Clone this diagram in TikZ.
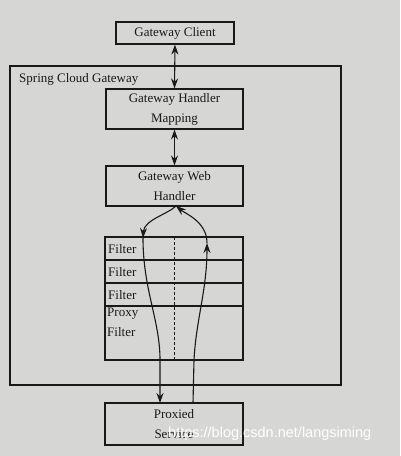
\documentclass[tikz,border=0pt]{standalone}
\usepackage{fontspec}
\setmainfont{Liberation Serif}
\newfontfamily\wmfont{Liberation Sans}
\usetikzlibrary{arrows.meta}
\definecolor{paper}{RGB}{214,214,212}
\definecolor{ink}{RGB}{25,25,25}
\tikzset{
  box/.style={draw=ink, line width=1.1pt, rectangle, inner sep=0pt, align=center, font=\fontsize{13}{20}\selectfont, text=ink},
  rowbox/.style={draw=ink, line width=1.1pt, rectangle, inner sep=0pt, minimum width=138pt},
  lbl/.style={font=\fontsize{13}{20}\selectfont, text=ink, inner sep=0pt, align=left},
  conn/.style={draw=ink, line width=1.1pt},
  tip/.style={-{Stealth[length=10pt,width=7pt]}},
  dtip/.style={{Stealth[length=10pt,width=7pt]}-{Stealth[length=10pt,width=7pt]}}
}
\begin{document}
\begin{tikzpicture}[x=1pt,y=-1pt]
\fill[paper] (0,0) rectangle (400,456);
\useasboundingbox (0,0) rectangle (400,456);
% outer box
\draw[conn] (10,66) rectangle (341,385);
\node[lbl, anchor=west] (scg) at (19,79) {Spring Cloud Gateway};
% nodes
\node[box, minimum width=118pt, minimum height=22pt] (client) at (175,33) {Gateway Client};
\node[box, minimum width=137pt, minimum height=40pt] (mapping) at (174.5,109) {\raisebox{-2pt}{\parbox{130pt}{\centering Gateway Handler\\Mapping}}};
\node[box, minimum width=137pt, minimum height=40pt] (web) at (174.5,186) {\raisebox{-2pt}{\parbox{130pt}{\centering Gateway Web\\Handler}}};
% filter rows
\node[rowbox, minimum height=23pt] (f1) at (174,248.5) {};
\node[rowbox, minimum height=23pt] (f2) at (174,271.5) {};
\node[rowbox, minimum height=23pt] (f3) at (174,294.5) {};
\node[rowbox, minimum height=54pt] (pf) at (174,333) {};
\node[lbl, anchor=west] (f1t) at (108,249) {Filter};
\node[lbl, anchor=west] (f2t) at (108,272) {Filter};
\node[lbl, anchor=west] (f3t) at (108,295) {Filter};
\node[lbl, anchor=north west] (pft) at (107,308) {Proxy\\Filter};
\node[box, minimum width=138pt, minimum height=42pt] (proxied) at (174,424) {\raisebox{-2pt}{\parbox{130pt}{\centering Proxied\\Service}}};
% dashed divider
\coordinate (dtop) at (174,237);
\coordinate (dbot) at (174,360);
\draw[conn, line width=1pt, dash pattern=on 3pt off 2pt] (dtop) -- (dbot);
% vertical double arrows
\draw[conn, dtip] (client.south) -- (mapping.north);
\draw[conn, dtip] (mapping.south) -- (web.north);
% request path (left)
\coordinate (wb) at (176,206);
\coordinate (la) at (143,238);
\coordinate (lb) at (160,360);
\coordinate (lc) at (160,403);
\draw[conn, tip] (wb) .. controls (168,214) and (144,220) .. (la);
\draw[conn, tip] (la) .. controls (143,290) and (160,320) .. (lb) -- (lc);
% response path (right)
\coordinate (rc) at (193,403);
\coordinate (rb) at (194,360);
\coordinate (ra) at (207,243);
\draw[conn, tip] (rc) -- (rb) .. controls (196,320) and (207,290) .. (ra);
\draw[conn, tip] (ra) .. controls (207,222) and (186,214) .. (wb);
% watermark
\node[font=\wmfont\fontsize{14.5}{16}\selectfont, text=white, anchor=west, inner sep=0pt] (wm) at (168,434) {https://blog.csdn.net/langsiming};
\end{tikzpicture}
\end{document}
